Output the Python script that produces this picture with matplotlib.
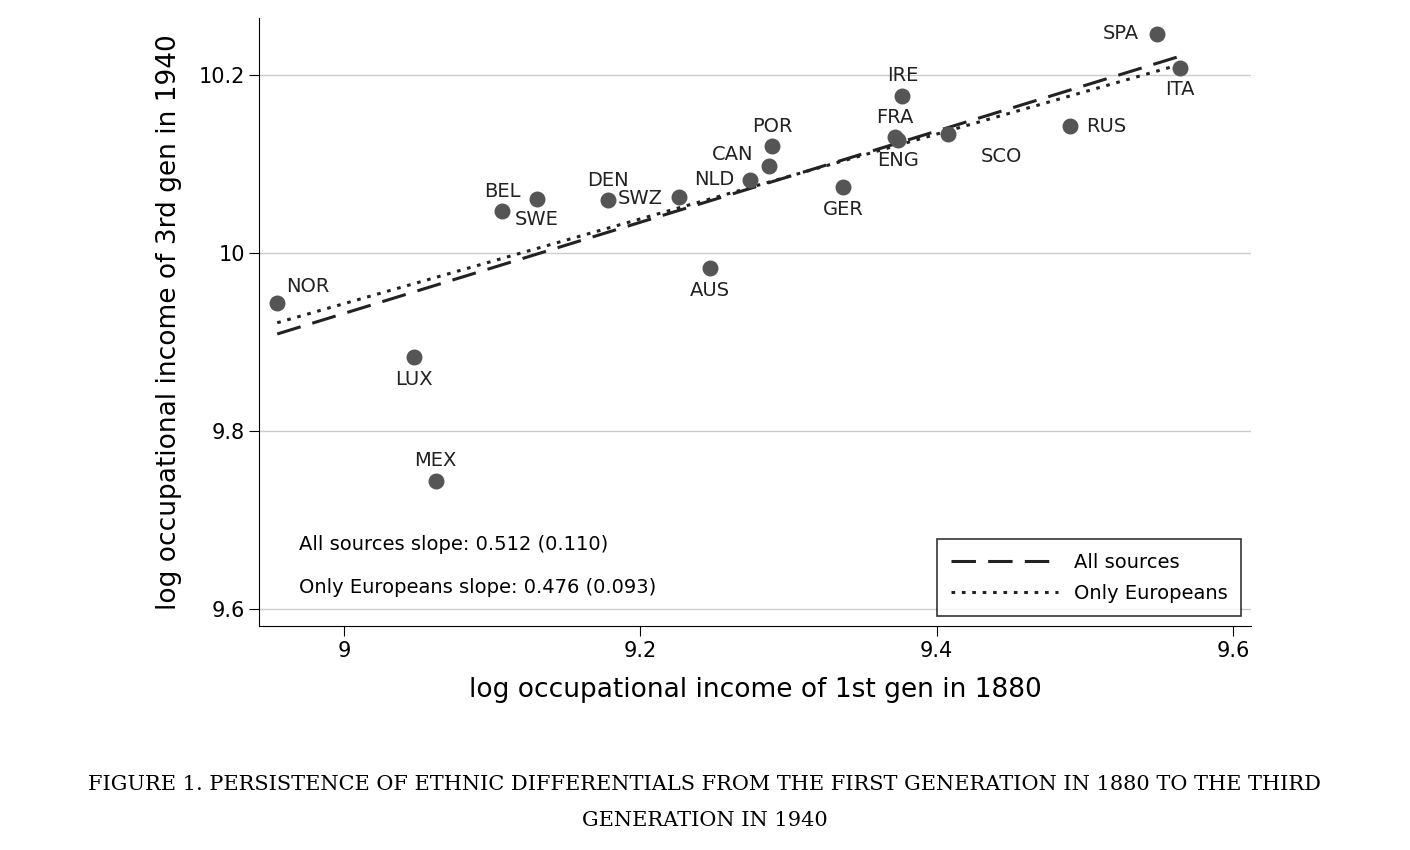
import numpy as np
import matplotlib.pyplot as plt

codes = ["NOR", "LUX", "MEX", "BEL", "SWE", "DEN", "SWZ", "AUS", "NLD", "CAN",
         "POR", "GER", "FRA", "ENG", "IRE", "SCO", "RUS", "SPA", "ITA"]
gen1 = [8.955, 9.047, 9.062, 9.107, 9.130, 9.178, 9.226, 9.247, 9.274, 9.287,
        9.289, 9.337, 9.372, 9.374, 9.377, 9.408, 9.490, 9.549, 9.564]
gen3 = [9.944, 9.883, 9.744, 10.047, 10.061, 10.060, 10.063, 9.983, 10.082, 10.098,
        10.120, 10.074, 10.130, 10.127, 10.176, 10.133, 10.142, 10.246, 10.208]
# label offsets (points)
offs = {"NOR": (22, 12), "LUX": (0, -16), "MEX": (0, 15), "BEL": (0, 14),
        "SWE": (0, -15), "DEN": (0, 14), "SWZ": (-28, -1), "AUS": (0, -16),
        "NLD": (-26, 0), "CAN": (-26, 8), "POR": (0, 14), "GER": (0, -16),
        "FRA": (0, 14), "ENG": (0, -15), "IRE": (0, 15), "SCO": (38, -16),
        "RUS": (26, 0), "SPA": (-26, 0), "ITA": (0, -16)}

fit_all = (5.324, 0.512)
fit_eur = (5.659, 0.476)
fit_x = [8.955, 9.564]

fig = plt.figure(figsize=(14.1, 8.5), dpi=100)
ax = fig.add_axes([0.184, 0.2635, 0.703, 0.7155])
for yv in [9.6, 9.8, 10.0, 10.2]:
    ax.axhline(yv, color="#cccccc", lw=1, zorder=0)

xs = np.array(fit_x)
ax.plot(xs, fit_all[0] + fit_all[1] * xs, color="#222222", lw=2.2,
        dashes=(8, 4), label="All sources")
ax.plot(xs, fit_eur[0] + fit_eur[1] * xs, color="#222222", lw=2.2,
        dashes=(1.2, 2.2), label="Only Europeans")
ax.scatter(gen1, gen3, s=110, color="#555555", zorder=3)
for c, x, y in zip(codes, gen1, gen3):
    ax.annotate(c, (x, y), xytext=offs[c], textcoords="offset points",
                ha="center", va="center", fontsize=14, color="#222222")

ax.set_xlim(8.943, 9.612)
ax.set_ylim(9.581, 10.264)
ax.set_xticks([9, 9.2, 9.4, 9.6])
ax.set_xticklabels(["9", "9.2", "9.4", "9.6"])
ax.set_yticks([9.6, 9.8, 10.0, 10.2])
ax.set_yticklabels(["9.6", "9.8", "10", "10.2"])
ax.tick_params(labelsize=15, length=7)
for s in ["top", "right"]:
    ax.spines[s].set_visible(False)
ax.set_xlabel("log occupational income of 1st gen in 1880", fontsize=19, labelpad=12)
ax.set_ylabel("log occupational income of 3rd gen in 1940", fontsize=19, labelpad=12)

ax.text(0.04, 0.125, "All sources slope: 0.512 (0.110)", transform=ax.transAxes, fontsize=14)
ax.text(0.04, 0.055, "Only Europeans slope: 0.476 (0.093)", transform=ax.transAxes, fontsize=14)
leg = ax.legend(loc="lower right", fontsize=14, fancybox=False, edgecolor="black",
                handlelength=5.5, borderpad=0.7, labelspacing=0.6)
leg.get_frame().set_linewidth(1.2)

fig.text(0.5, 0.07, "FIGURE 1. PERSISTENCE OF ETHNIC DIFFERENTIALS FROM THE FIRST GENERATION IN 1880 TO THE THIRD",
         ha="center", fontsize=15, family="DejaVu Serif")
fig.text(0.5, 0.028, "GENERATION IN 1940", ha="center", fontsize=15, family="DejaVu Serif")

fig.savefig("out.png")
